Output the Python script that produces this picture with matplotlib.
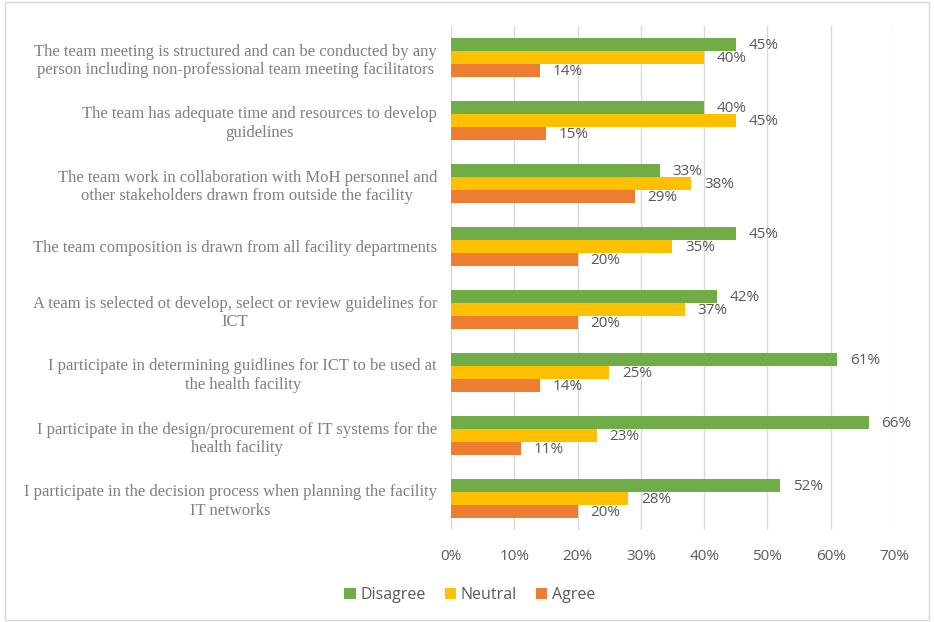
import matplotlib.pyplot as plt
import numpy as np
from matplotlib.patches import Rectangle

# Dados do gráfico (de cima para baixo)
categorias = [
    'The team meeting is structured and can be conducted by any\nperson including non-professional team meeting facilitators',
    'The team has adequate time and resources to develop\nguidelines',
    'The team work in collaboration with MoH personnel and\nother stakeholders drawn from outside the facility',
    'The team composition is drawn from all facility departments',
    'A team is selected ot develop, select or review guidelines for\nICT',
    'I participate in determining guidlines for ICT to be used at\nthe health facility',
    'I participate in the design/procurement of IT systems for the\nhealth facility',
    'I participate in the decision process when planning the facility\nIT networks',
]
disagree = [45, 40, 33, 45, 42, 61, 66, 52]
neutral = [40, 45, 38, 35, 37, 25, 23, 28]
agree = [14, 15, 29, 20, 20, 14, 11, 20]
ticks = [0, 10, 20, 30, 40, 50, 60, 70]

series = [('Disagree', disagree, '#70AD47'),
          ('Neutral', neutral, '#FFC000'),
          ('Agree', agree, '#ED7D31')]

fig = plt.figure(figsize=(9.34, 6.22), dpi=100)
ax = fig.add_axes([451 / 934, 1 - 530 / 622, (894 - 451) / 934, (530 - 26) / 622])

y = np.arange(len(categorias))
h = 0.205
for i, (nome, vals, cor) in enumerate(series):
    pos = y + (i - 1) * h
    ax.barh(pos, vals, height=h, color=cor, label=nome, zorder=2)
    for p, v in zip(pos, vals):
        ax.text(v + 2.0, p + 0.02, f'{v}%', va='center', ha='left',
                fontsize=11, color='#595959', family='Open Sans')

ax.set_ylim(len(categorias) - 0.5, -0.5)
ax.set_xlim(0, 70)
ax.set_xticks(ticks)
ax.set_xticklabels([f'{t}%' for t in ticks], fontsize=11, color='#595959',
                   family='Open Sans')
ax.set_yticks(y)
ax.set_yticklabels(categorias, fontsize=12, color='#7F7F7F',
                   family='Liberation Serif', multialignment='center')
ax.tick_params(axis='both', length=0)
ax.tick_params(axis='x', pad=14)
ax.tick_params(axis='y', pad=10)
ax.grid(axis='x', color='#D9D9D9', linewidth=1, zorder=0)
for s in ax.spines.values():
    s.set_visible(False)

leg = fig.legend(loc='center', bbox_to_anchor=(470 / 934, 1 - 595 / 622), ncol=3,
                 frameon=False, handlelength=0.7, handleheight=0.7,
                 handletextpad=0.3, columnspacing=1.2,
                 prop={'family': 'Open Sans', 'size': 11.5})
for t in leg.get_texts():
    t.set_color('#595959')

# Borda do gráfico
fig.patches.append(Rectangle((5 / 934, 2 / 622), 924 / 934, 618 / 622,
                             transform=fig.transFigure, fill=False,
                             edgecolor='#D9D9D9', linewidth=1))

fig.savefig('out.png', dpi=100)
